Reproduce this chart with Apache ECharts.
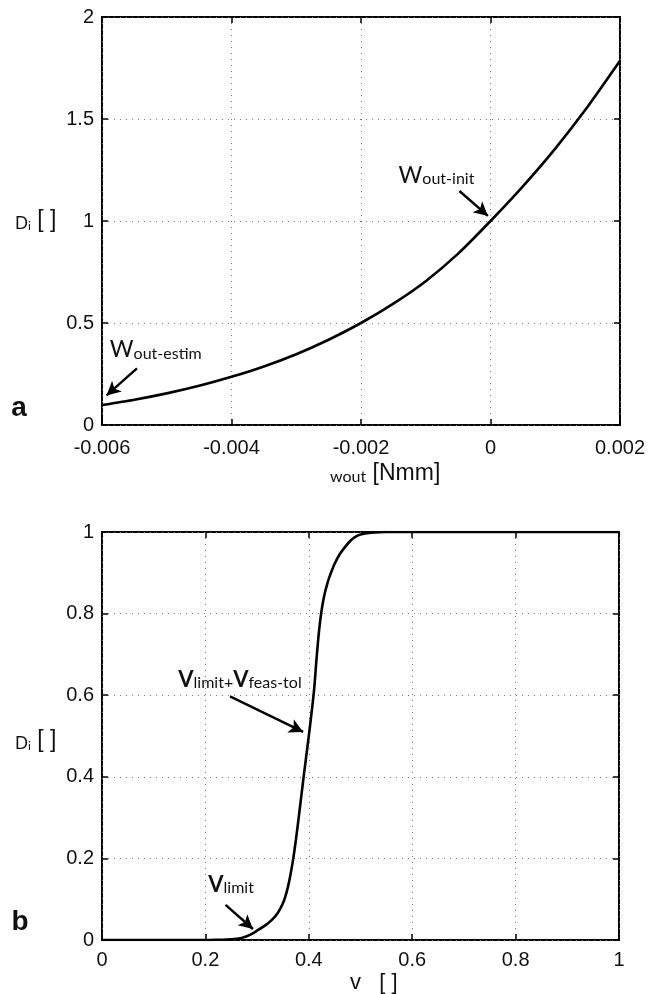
<!DOCTYPE html>
<html>
<head>
<meta charset="utf-8">
<script src="https://cdn.jsdelivr.net/npm/echarts@6/dist/echarts.min.js"></script>
<style>
  html, body { margin: 0; padding: 0; background: #fff; }
  #main { width: 661px; height: 994px; }
</style>
</head>
<body>
<div id="main"></div>
<script>
// panel a : D_i against w_out
var wOut = [-0.006, -0.0055, -0.005, -0.0045, -0.004, -0.0035, -0.003, -0.0025, -0.002,
            -0.0015, -0.001, -0.0005, 0, 0.0005, 0.001, 0.0015, 0.002];
var dA = [0.098, 0.124, 0.155, 0.192, 0.236, 0.287, 0.347, 0.418, 0.50,
          0.595, 0.705, 0.84, 1.0, 1.17, 1.355, 1.56, 1.785];
var xTicksA = [-0.006, 0.002, 0.002];   // min, max, interval
var yTicksA = [0, 2, 0.5];

// panel b : D_i against v
var vVal = [0, 0.1, 0.2, 0.22, 0.25, 0.27, 0.28, 0.29, 0.30, 0.31, 0.32, 0.33, 0.34, 0.35,
            0.355, 0.36, 0.365, 0.37, 0.375, 0.38, 0.39, 0.40, 0.41, 0.415, 0.42, 0.425,
            0.43, 0.435, 0.44, 0.45, 0.46, 0.47, 0.48, 0.49, 0.50, 0.52, 0.55, 0.6, 0.7,
            0.8, 0.9, 1.0];
var dB = [0, 0, 0, 0.0005, 0.002, 0.005, 0.009, 0.015, 0.023, 0.031, 0.04, 0.051, 0.066, 0.09,
          0.108, 0.132, 0.163, 0.20, 0.245, 0.295, 0.40, 0.50, 0.61, 0.69, 0.76, 0.81,
          0.845, 0.87, 0.89, 0.922, 0.946, 0.963, 0.978, 0.988, 0.994, 0.998, 1.0, 1.0, 1.0,
          1.0, 1.0, 1.0];
var xTicksB = [0, 1, 0.2];
var yTicksB = [0, 1, 0.2];

// annotations (data coordinates)
var notesA = [
  { text: '{w|W}{s|out-init}', at: [-0.00142, 1.225], from: [-0.00048, 1.147], to: [-0.00004, 1.025] },
  { text: '{w|W}{s|out-estim}', at: [-0.00588, 0.368], from: [-0.00546, 0.278], to: [-0.00593, 0.145] }
];
var notesB = [
  { text: '{v|V}{s|limit}', at: [0.2056, 0.135], from: [0.239, 0.086], to: [0.292, 0.027] },
  { text: '{v|V}{s|limit+}{v|V}{s|feas-tol}', at: [0.1476, 0.638], from: [0.2476, 0.597], to: [0.389, 0.51] }
];

var richNote = {
  w: { fontFamily: 'Lato', fontSize: 23, color: '#111', verticalAlign: 'bottom', lineHeight: 23 },
  v: { fontFamily: 'Lato', fontSize: 22, fontWeight: 'bold', color: '#111', verticalAlign: 'bottom', lineHeight: 22 },
  s: { fontFamily: 'Lato', fontSize: 16, color: '#111', verticalAlign: 'bottom', lineHeight: 18 }
};

function pairs(xs, ys) {
  return xs.map(function (x, i) { return [x, ys[i]]; });
}

function axes(kind, grid, t, main) {
  var ax = [];
  var positions = kind === 'x' ? ['bottom', 'top'] : ['left', 'right'];
  positions.forEach(function (p, k) {
    ax.push({
      type: 'value', gridIndex: grid, position: p,
      min: t[0], max: t[1], interval: t[2],
      axisLine: { show: false, onZero: false },
      axisTick: { show: true, inside: true, length: 6, lineStyle: { color: '#000', width: 1.5 } },
      axisLabel: {
        show: k === 0, color: '#111', fontFamily: 'Liberation Sans', fontSize: 20,
        margin: main.margin
      },
      splitLine: {
        show: k === 0,
        lineStyle: { color: '#777', width: 1, type: [1, 5] }
      }
    });
  });
  return ax;
}

function curve(xIdx, yIdx, data, notes) {
  return {
    type: 'line', xAxisIndex: xIdx, yAxisIndex: yIdx,
    data: data, showSymbol: false, smooth: 0.25,
    lineStyle: { color: '#000', width: 2.6 },
    markLine: {
      silent: true, symbol: ['none', 'arrow'], symbolSize: [11, 14],
      lineStyle: { color: '#000', width: 2.4, type: 'solid' },
      label: { show: false },
      data: notes.map(function (n) { return [{ coord: n.from }, { coord: n.to }]; })
    },
    markPoint: {
      silent: true, symbol: 'circle', symbolSize: 0,
      label: {
        show: true, position: [0, 0], align: 'left', verticalAlign: 'middle',
        formatter: function (p) { return p.data.name; },
        rich: richNote
      },
      data: notes.map(function (n) { return { name: n.text, coord: n.at }; })
    }
  };
}

var chart = echarts.init(document.getElementById('main'));

var xAxes = axes('x', 0, xTicksA, { margin: 13 }).concat(axes('x', 1, xTicksB, { margin: 10 }));
var yAxes = axes('y', 0, yTicksA, { margin: 8 }).concat(axes('y', 1, yTicksB, { margin: 8 }));

chart.setOption({
  animation: false,
  backgroundColor: '#fff',
  grid: [
    { left: 102, top: 17, width: 518, height: 408, show: true, borderColor: '#000', borderWidth: 2, backgroundColor: 'transparent' },
    { left: 102, top: 532, width: 517, height: 408, show: true, borderColor: '#000', borderWidth: 2, backgroundColor: 'transparent' }
  ],
  xAxis: xAxes,
  yAxis: yAxes,
  series: [
    curve(0, 0, pairs(wOut, dA), notesA),
    curve(2, 2, pairs(vVal, dB), notesB)
  ],
  graphic: [
    { type: 'text', x: 19, y: 408, style: { text: 'a', font: 'bold 28px "Liberation Sans"', fill: '#111', align: 'center', verticalAlign: 'middle' } },
    { type: 'text', x: 20, y: 922, style: { text: 'b', font: 'bold 28px "Liberation Sans"', fill: '#111', align: 'center', verticalAlign: 'middle' } },
    { type: 'text', x: 15, y: 220, style: {
        text: '{d|D}{i|i}{b| [ ]}', align: 'left', verticalAlign: 'middle',
        rich: {
          d: { fontFamily: 'Lato', fontSize: 17, fill: '#111', verticalAlign: 'bottom', lineHeight: 20 },
          i: { fontFamily: 'Lato', fontSize: 12, fill: '#111', verticalAlign: 'bottom', lineHeight: 18 },
          b: { fontFamily: 'Liberation Sans', fontSize: 23, fill: '#111', verticalAlign: 'bottom', lineHeight: 24 }
        } } },
    { type: 'text', x: 15, y: 740, style: {
        text: '{d|D}{i|i}{b| [ ]}', align: 'left', verticalAlign: 'middle',
        rich: {
          d: { fontFamily: 'Lato', fontSize: 17, fill: '#111', verticalAlign: 'bottom', lineHeight: 20 },
          i: { fontFamily: 'Lato', fontSize: 12, fill: '#111', verticalAlign: 'bottom', lineHeight: 18 },
          b: { fontFamily: 'Liberation Sans', fontSize: 23, fill: '#111', verticalAlign: 'bottom', lineHeight: 24 }
        } } },
    { type: 'text', x: 330, y: 473, style: {
        text: '{w|wout}{b| [Nmm]}', align: 'left', verticalAlign: 'middle',
        rich: {
          w: { fontFamily: 'Lato', fontSize: 16, fill: '#111', verticalAlign: 'bottom', lineHeight: 19 },
          b: { fontFamily: 'Liberation Sans', fontSize: 23, fill: '#111', verticalAlign: 'bottom', lineHeight: 24 }
        } } },
    { type: 'text', x: 350, y: 983, style: {
        text: 'v   [ ]', align: 'left', verticalAlign: 'middle',
        font: '22px "Liberation Sans"', fill: '#111' } }
  ]
});
</script>
</body>
</html>
